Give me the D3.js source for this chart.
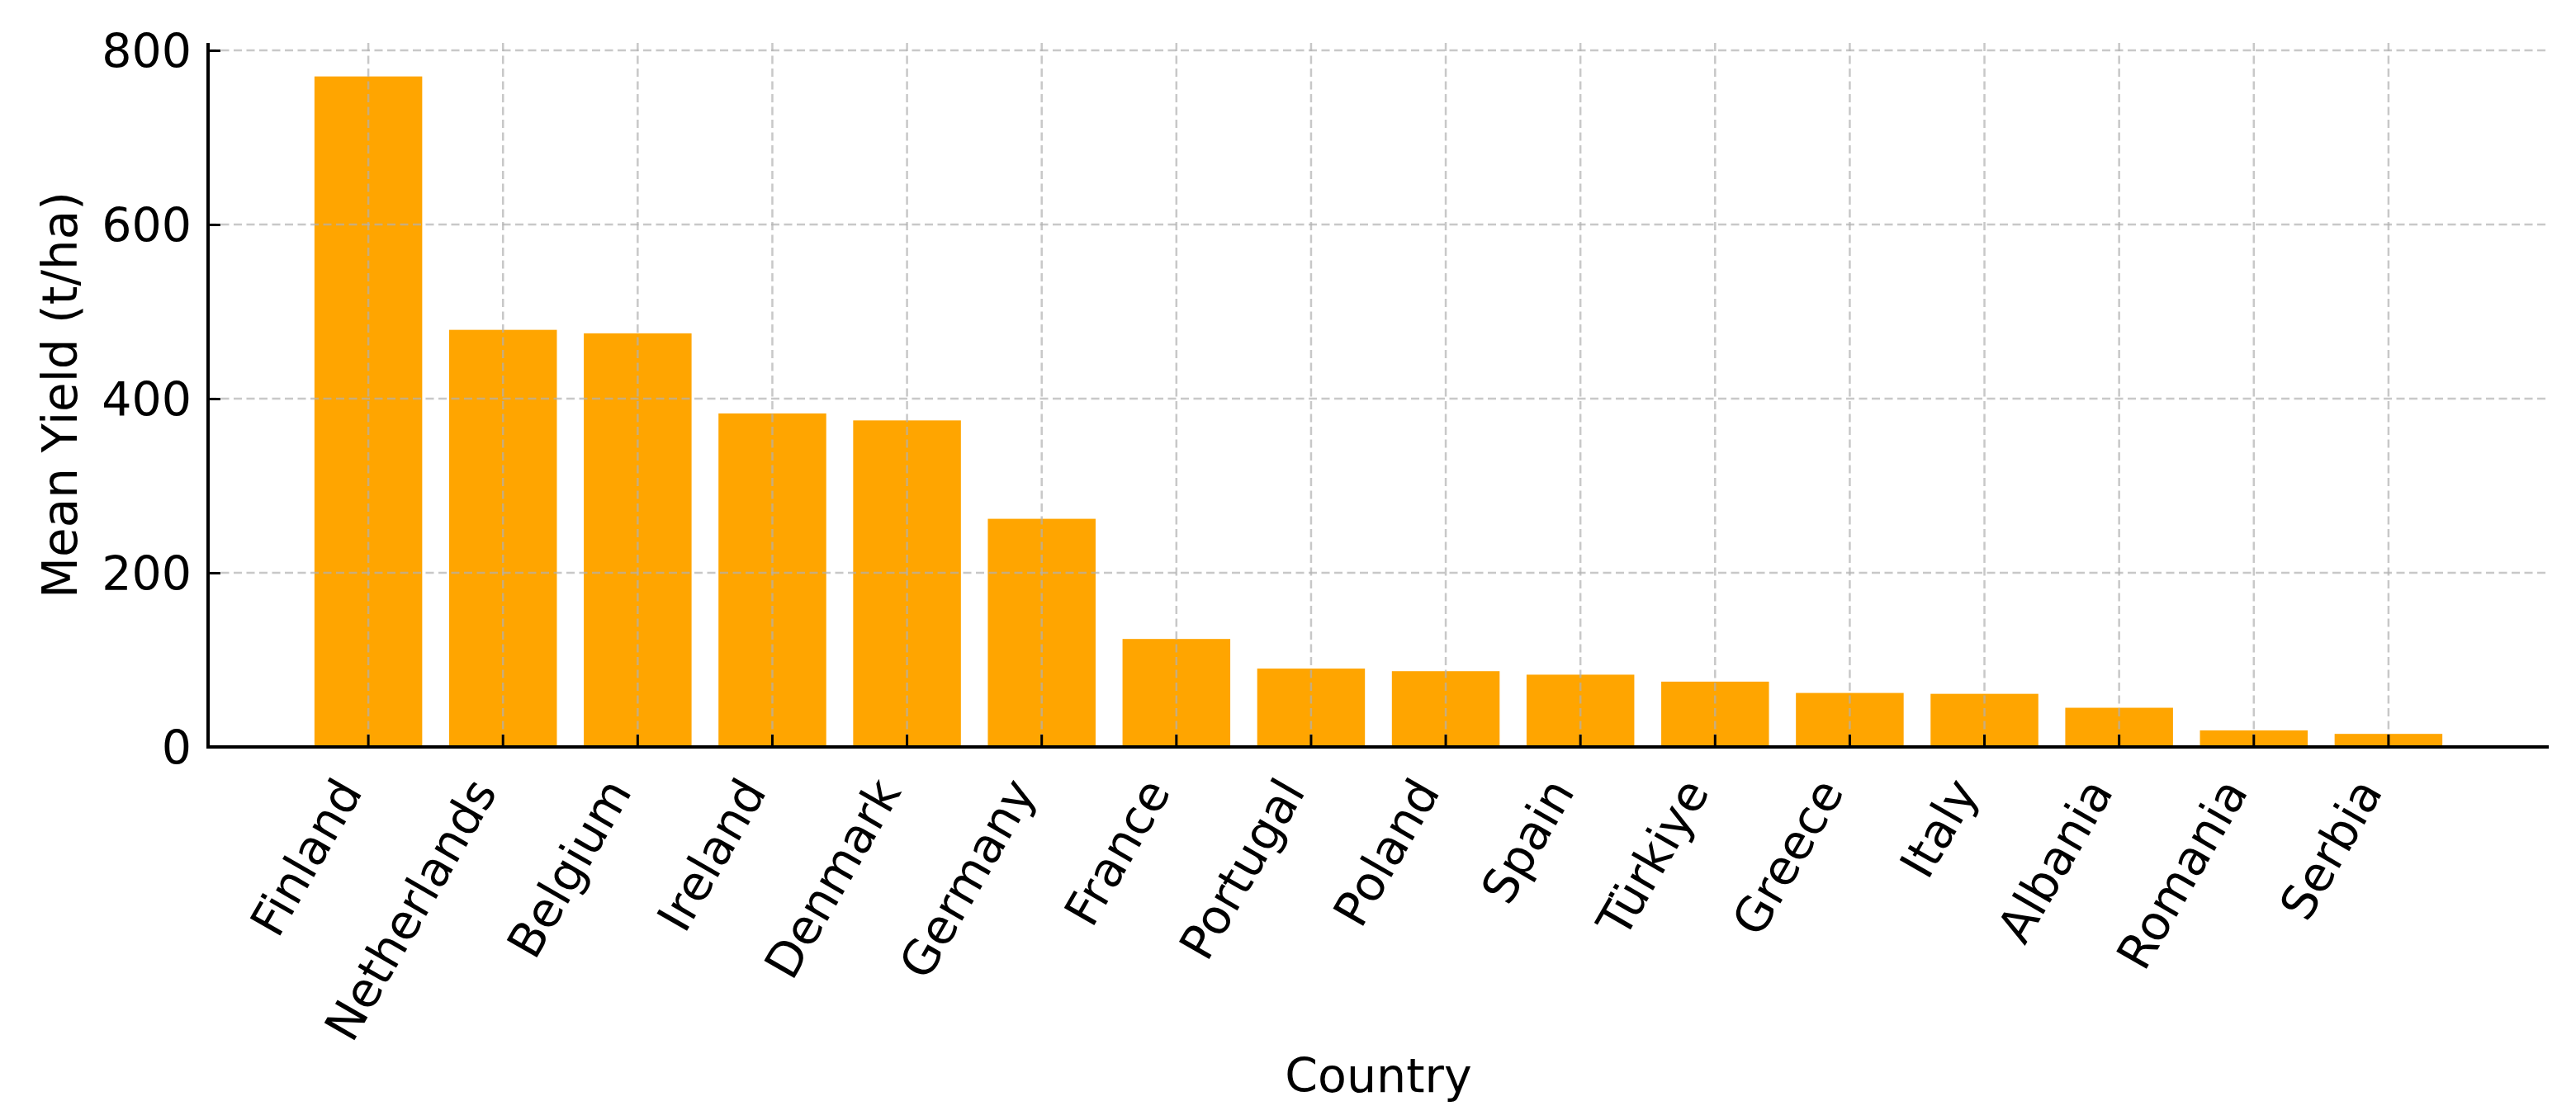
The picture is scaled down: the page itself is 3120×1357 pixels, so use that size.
<!DOCTYPE html>
<html>
<head>
<meta charset="utf-8">
<script src="https://cdn.jsdelivr.net/npm/d3@7"></script>
<style>
  html, body { margin: 0; padding: 0; background: #fff; }
  svg { display: block; }
  text { font-family: "DejaVu Sans", sans-serif; fill: #000; }
</style>
</head>
<body>
<script>
const countries = ["Finland","Netherlands","Belgium","Ireland","Denmark","Germany","France","Portugal","Poland","Spain","Türkiye","Greece","Italy","Albania","Romania","Serbia"];
const yieldValues = [770, 479, 475, 383, 375, 262, 124, 90, 87, 83, 75, 62, 61, 45, 19, 15];
const yTickValues = [0, 200, 400, 600, 800];
const xAxisTitle = "Country";
const yAxisTitle = "Mean Yield (t/ha)";

(function () {
const W = 3120, H = 1357;
const plotLeft = 252, plotRight = 3087, plotTop = 52, plotBottom = 905;
const fontSize = 57;

const svg = d3.select("body").append("svg").attr("width", W).attr("height", H);

const x = d3.scaleBand().domain(countries).range([plotLeft, plotRight]).paddingInner(0.2).paddingOuter(0.79);
const yMax = d3.max(yieldValues) * 1.05;
const y = d3.scaleLinear().domain([0, yMax]).range([plotBottom, plotTop]);

// bars
svg.append("g").selectAll("rect").data(countries).join("rect")
  .attr("x", d => x(d))
  .attr("width", x.bandwidth())
  .attr("y", (d, i) => y(yieldValues[i]))
  .attr("height", (d, i) => y(0) - y(yieldValues[i]))
  .attr("fill", "#FFA500");

// grid
const grid = svg.append("g").attr("stroke", "#b0b0b0").attr("stroke-opacity", 0.7)
  .attr("stroke-width", 2.5).attr("stroke-dasharray", "10,5.5");
grid.selectAll("line.h").data(yTickValues).join("line").attr("class", "h")
  .attr("x1", plotLeft).attr("x2", plotRight).attr("y1", d => y(d)).attr("y2", d => y(d));
grid.selectAll("line.v").data(countries).join("line").attr("class", "v")
  .attr("x1", d => x(d) + x.bandwidth() / 2).attr("x2", d => x(d) + x.bandwidth() / 2)
  .attr("y1", plotTop).attr("y2", plotBottom);

// y axis
const yAxis = svg.append("g").attr("transform", `translate(${plotLeft},0)`)
  .call(d3.axisLeft(y).tickValues(yTickValues).tickSize(-15).tickPadding(20).tickFormat(d3.format("d")));
yAxis.select(".domain").attr("stroke", "#000").attr("stroke-width", 4).attr("d", `M0,${plotTop}V${plotBottom}`);
yAxis.selectAll(".tick line").attr("stroke", "#000").attr("stroke-width", 3);
yAxis.selectAll(".tick text").attr("font-size", fontSize).attr("font-family", "DejaVu Sans").attr("fill", "#000").attr("dy", "0.36em");

// x axis
const xAxis = svg.append("g").attr("transform", `translate(0,${plotBottom})`)
  .call(d3.axisBottom(x).tickSize(-15).tickSizeOuter(0));
xAxis.select(".domain").attr("stroke", "#000").attr("stroke-width", 4).attr("d", `M${plotLeft - 2},0H${plotRight}`);
xAxis.selectAll(".tick line").attr("stroke", "#000").attr("stroke-width", 3);
xAxis.selectAll(".tick text")
  .attr("font-size", 58).attr("font-family", "DejaVu Sans").attr("fill", "#000")
  .attr("text-anchor", "end").attr("x", -6).attr("y", 54).attr("dy", 0)
  .attr("transform", "rotate(-60,-6,54)");

// axis titles
svg.append("text").attr("x", (plotLeft + plotRight) / 2).attr("y", 1323)
  .attr("text-anchor", "middle").attr("font-size", fontSize).text(xAxisTitle);
svg.append("text").attr("transform", `translate(93,${(plotTop + plotBottom) / 2}) rotate(-90)`)
  .attr("text-anchor", "middle").attr("font-size", 58).text(yAxisTitle);
})();
</script>
</body>
</html>
